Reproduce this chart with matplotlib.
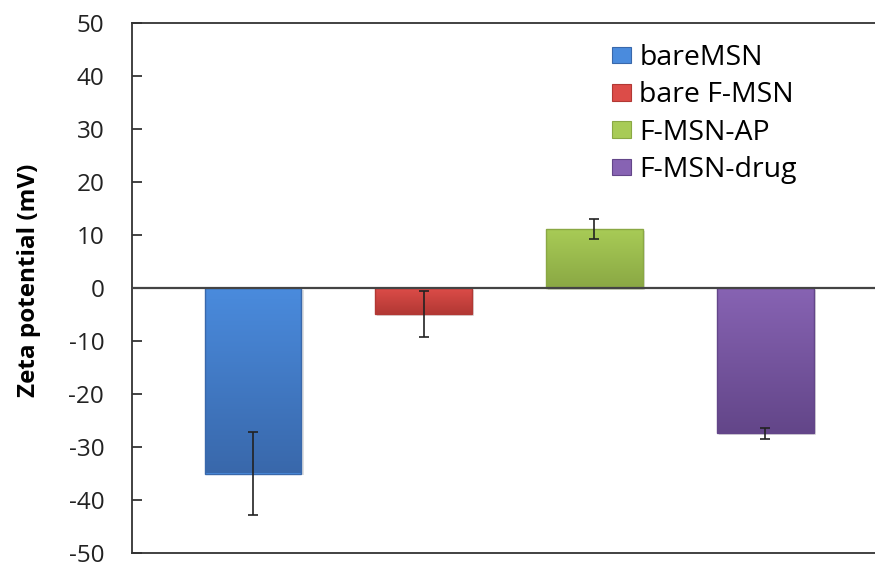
import numpy as np
import matplotlib
matplotlib.use("Agg")
import matplotlib.pyplot as plt
from matplotlib.colors import LinearSegmentedColormap
from matplotlib.patches import Rectangle

# data
labels = ["bareMSN", "bare F-MSN", "F-MSN-AP", "F-MSN-drug"]
values = [-35.0, -4.9, 11.1, -27.4]
errors = [7.8, 4.3, 1.9, 1.0]
# (light, dark) pair per bar for the Excel-ish gradient
light = ["#4A8BDD", "#DC4C48", "#A8CB56", "#8763B3"]
dark = ["#3968AB", "#B23834", "#8AA844", "#634689"]

plt.rcParams['font.family'] = ['Open Sans', 'DejaVu Sans']
plt.rcParams['axes.unicode_minus'] = False

fig = plt.figure(figsize=(8.75, 5.67), dpi=100)
ax = fig.add_axes([132/875, 14/567, 1.0 - 132/875, 530/567])

x = np.arange(len(values))
width = 0.568
bars = ax.bar(x, values, width, color=light, edgecolor="none", zorder=2)

# vertical gradient inside each bar, clipped to the bar, plus a soft shadow
for b, c1, c2 in zip(bars, light, dark):
    cmap = LinearSegmentedColormap.from_list("g", [c1, c2])
    x0, y0 = b.get_x(), b.get_y()
    w, h = b.get_width(), b.get_height()
    lo, hi = min(y0, y0 + h), max(y0, y0 + h)
    ax.add_patch(Rectangle((x0 + 0.012, lo - 0.35), w, hi - lo, fc="#000000",
                           alpha=0.12, ec="none", zorder=1.5))
    grad = np.linspace(0, 1, 100).reshape(-1, 1)
    im = ax.imshow(grad, cmap=cmap, aspect="auto", extent=(x0, x0 + w, lo, hi),
                   zorder=2.1, interpolation="bicubic")
    im.set_clip_path(b)
    ax.add_patch(Rectangle((x0, lo), w, hi - lo, fill=False, ec=c2, lw=1.0, zorder=2.2))

ax.errorbar(x, values, yerr=errors, fmt="none", ecolor="#222222", elinewidth=1.2,
            capsize=3.5, capthick=1.2, zorder=3)

ax.axhline(0, color="#444444", lw=1.6, zorder=4)

ax.set_xlim(-0.709, 3.644)
ax.set_ylim(-50, 50)
ax.set_yticks(np.arange(-50, 51, 10))
ax.set_xticks([])
ax.tick_params(axis="y", direction="in", length=7, width=1.2, pad=20,
               labelsize=17.5, colors="#222222")
for s in ["left", "top", "bottom"]:
    ax.spines[s].set_linewidth(1.3)
    ax.spines[s].set_color("#333333")
ax.spines["right"].set_visible(False)

ax.set_ylabel("Zeta potential (mV)", fontsize=17.5, fontweight="bold")
ax.yaxis.set_label_coords(-0.123, 0.515)

handles = [Rectangle((0, 0), 1, 1, fc=c, ec=d, lw=0.8) for c, d in zip(light, dark)]
ax.legend(handles, labels, loc="upper left", bbox_to_anchor=(612/875, 1 - 44/567),
          bbox_transform=fig.transFigure, frameon=False, fontsize=20.5,
          handlelength=0.66, handleheight=0.52, handletextpad=0.3,
          labelspacing=0.33, borderaxespad=0, borderpad=0)

fig.savefig("out.png", dpi=100)
